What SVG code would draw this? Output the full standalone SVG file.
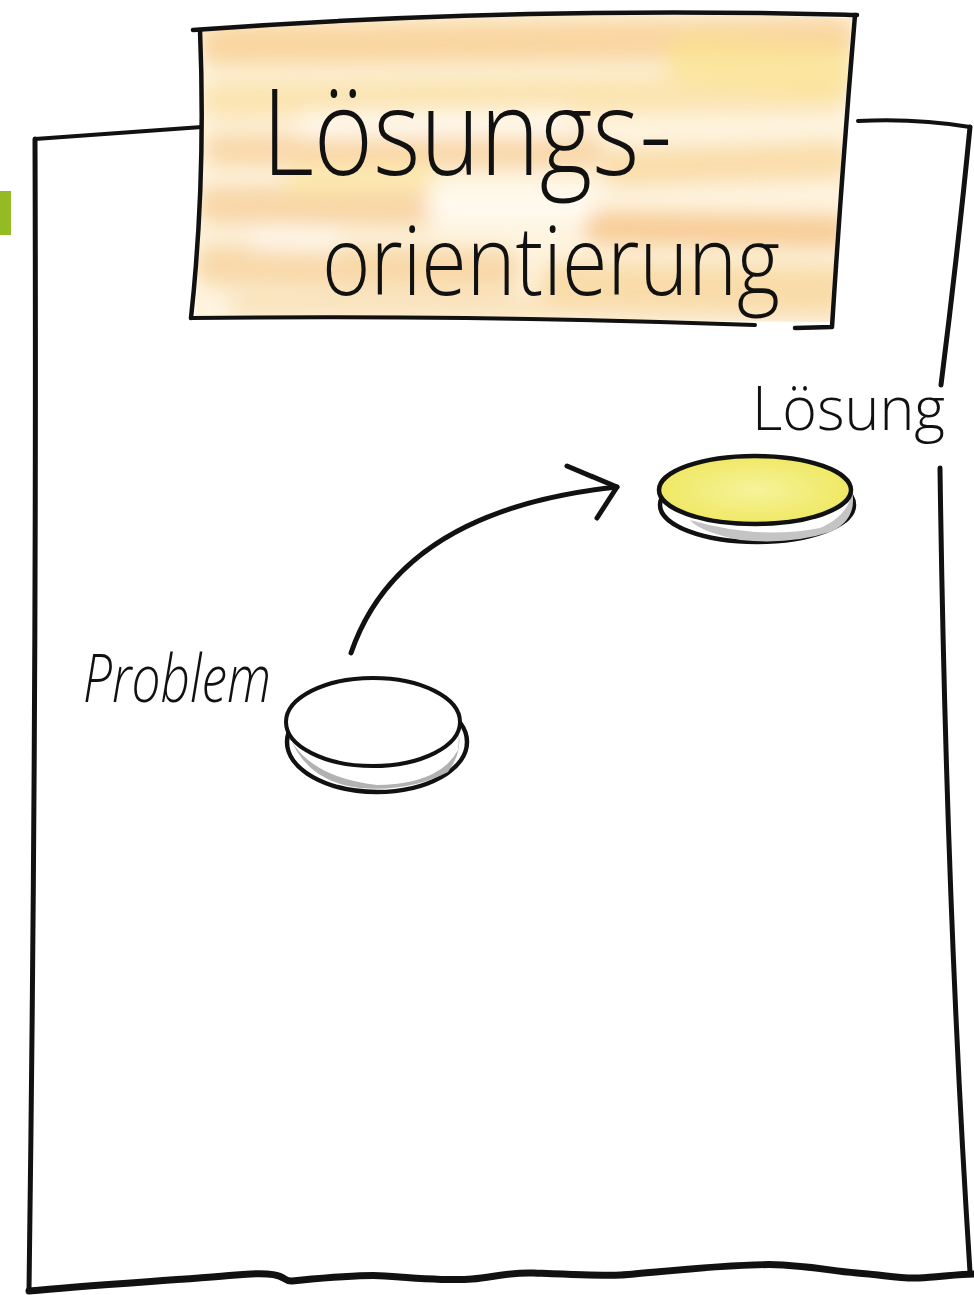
<svg xmlns="http://www.w3.org/2000/svg" width="974" height="1295" viewBox="0 0 974 1295">
  <defs>
    <style>
      .ink { fill: none; stroke: #111; stroke-linecap: round; stroke-linejoin: round; }
      .hand { font-family: "Open Sans", Roboto, "Liberation Sans", sans-serif; font-weight: 300; fill: #111; }
      .wash { fill: none; stroke-linecap: round; }
    </style>
    <filter id="blur10" filterUnits="userSpaceOnUse" x="150" y="0" width="750" height="360"><feGaussianBlur stdDeviation="10"/></filter>
    <clipPath id="boxclip"><path d="M198 28 Q520 8 852 18 Q840 170 830 322 L195 316 Q205 180 198 28 Z"/></clipPath>
    <radialGradient id="yellow" cx="50%" cy="50%" r="60%">
      <stop offset="0" stop-color="#f6f39a"/>
      <stop offset="1" stop-color="#eee65a"/>
    </radialGradient>
  </defs>
  <rect width="974" height="1295" fill="#fff"/>
  <rect x="0" y="191" width="11" height="44" fill="#95bb24"/>

  <g id="sheet">
    <path class="ink" stroke-width="4" d="M35 139 L202 127"/>
    <path class="ink" stroke-width="5" d="M35 139 Q37 700 29 1290"/>
    <path class="ink" stroke-width="7" d="M29 1291 C90 1285 180 1280 236 1275 S280 1282 292 1281 S360 1274 385 1276 S450 1281 472 1279 S510 1272 534 1273 S600 1276 621 1275 S740 1262 783 1265 S830 1271 857 1273 S900 1279 919 1278 S960 1274 974 1274"/>
    <path class="ink" stroke-width="4" d="M858 121 Q915 118 970 127"/>
    <path class="ink" stroke-width="5" d="M970 127 Q958 250 941 385"/>
    <path class="ink" stroke-width="5" d="M940 468 Q946 900 970 1272"/>
  </g>

  <g id="title">
    <g id="wash" clip-path="url(#boxclip)">
      <rect x="190" y="10" width="670" height="320" fill="#fef4e0"/>
      <g filter="url(#blur10)">
        <path class="wash" d="M220 45 L835 38" stroke="#f6c985" stroke-width="42" opacity="0.7"/>
        <path class="wash" d="M220 100 L830 92" stroke="#f9dc98" stroke-width="38" opacity="0.65"/>
        <path class="wash" d="M220 150 L590 152" stroke="#f5c583" stroke-width="32" opacity="0.6"/>
        <path class="wash" d="M620 168 L835 160" stroke="#f7d08e" stroke-width="36" opacity="0.65"/>
        <path class="wash" d="M215 205 L420 208" stroke="#f4c382" stroke-width="38" opacity="0.6"/>
        <path class="wash" d="M600 228 L835 232" stroke="#f3ba78" stroke-width="32" opacity="0.7"/>
        <path class="wash" d="M215 265 L500 270" stroke="#f4c686" stroke-width="42" opacity="0.6"/>
        <path class="wash" d="M560 282 L835 286" stroke="#f6cf8e" stroke-width="42" opacity="0.65"/>
        <path class="wash" d="M240 305 L830 308" stroke="#f7d59e" stroke-width="22" opacity="0.6"/>
        <path class="wash" d="M690 60 L830 70" stroke="#fae28e" stroke-width="50" opacity="0.7"/>
        <path class="wash" d="M300 180 L420 175" stroke="#fbe49a" stroke-width="30" opacity="0.6"/>
        <path class="wash" d="M310 125 L560 122" stroke="#fffbf2" stroke-width="24" opacity="0.85"/>
        <path class="wash" d="M440 205 L580 205" stroke="#fffbf2" stroke-width="30" opacity="0.85"/>
        <path class="wash" d="M260 240 L330 242" stroke="#fffbf2" stroke-width="20" opacity="0.7"/>
      </g>
    </g>
    <path class="ink" stroke-width="4.5" d="M193 30 Q520 6 857 15"/>
    <path class="ink" stroke-width="4.5" d="M200 30 Q206 180 191 318"/>
    <path class="ink" stroke-width="4" d="M191 318 Q480 315 755 325"/>
    <path class="ink" stroke-width="4.5" d="M855 15 Q842 170 832 327 L795 328"/>
    <text class="hand" x="262" y="175" font-size="120" textLength="410" lengthAdjust="spacingAndGlyphs">Lösungs-</text>
    <text class="hand" x="322" y="295" font-size="96" textLength="458" lengthAdjust="spacingAndGlyphs">orientierung</text>
  </g>

  <g id="problem">
    <ellipse cx="377" cy="742" rx="90" ry="50" fill="#fff" stroke="#111" stroke-width="4.5"/>
    <path d="M292 742 Q315 778 377 785 Q440 784 458 750 Q462 720 446 704 Q472 740 448 772 Q410 792 360 788 Q310 782 292 742 Z" fill="#b2b2b2"/>
    <ellipse cx="373" cy="722" rx="87" ry="44" fill="#fff" stroke="#111" stroke-width="4"/>
    <text class="hand" x="83" y="702" font-size="66" font-style="italic" textLength="188" lengthAdjust="spacingAndGlyphs">Problem</text>
  </g>

  <g id="loesung">
    <ellipse cx="757" cy="505" rx="97" ry="37" fill="#fff" stroke="#111" stroke-width="4.5"/>
    <path d="M690 520 Q757 540 820 528 Q850 515 852 490 Q858 520 830 532 Q790 545 740 540 Q700 532 690 520 Z" fill="#c4c4c4"/>
    <ellipse cx="755" cy="490" rx="96" ry="34" fill="url(#yellow)" stroke="#111" stroke-width="4.5"/>
    <text class="hand" x="752" y="430" font-size="60" textLength="193" lengthAdjust="spacingAndGlyphs">Lösung</text>
  </g>

  <g id="connectors">
    <path class="ink" stroke-width="5" d="M351 653 Q400 510 617 487"/>
    <path class="ink" stroke-width="5" d="M567 466 L617 487 L597 518"/>
  </g>
</svg>
